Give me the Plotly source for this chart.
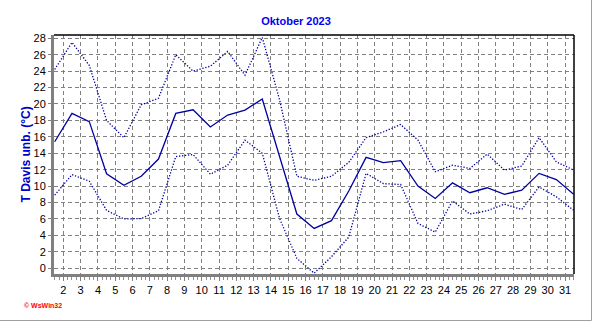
import plotly.graph_objects as go

days = list(range(1, 32))
x_pos = [d + 0.5 for d in days]

t_max = [24.2, 27.5, 24.7, 18.0, 15.9, 19.9, 20.7, 26.0, 24.0, 24.6, 26.4, 23.5, 28.1, 20.5, 11.2,
         10.7, 11.2, 12.9, 15.9, 16.6, 17.5, 15.6, 11.75, 12.55, 12.15, 13.9, 11.95, 12.45, 15.9, 12.95, 11.95]
t_mean = [15.4, 18.85, 17.85, 11.5, 10.1, 11.2, 13.3, 18.85, 19.3, 17.2, 18.65, 19.25, 20.6, 13.6, 6.6,
          4.85, 5.8, 9.4, 13.5, 12.85, 13.1, 10.0, 8.5, 10.4, 9.2, 9.8, 9.0, 9.5, 11.55, 10.8, 9.0]
t_min = [8.9, 11.4, 10.6, 7.05, 6.0, 6.05, 7.0, 13.6, 13.85, 11.45, 12.55, 15.6, 14.0, 6.05, 1.2,
         -0.6, 1.4, 3.8, 11.55, 10.3, 10.2, 5.45, 4.4, 8.2, 6.6, 7.0, 7.8, 7.15, 9.9, 8.7, 7.05]

x_ticks = list(range(2, 32))
y_ticks = list(range(0, 29, 2))

line_col = "#0000A0"
fig = go.Figure()
fig.add_trace(go.Scatter(x=x_pos, y=t_max, mode="lines",
                         line=dict(color=line_col, width=1.3, dash="1.3px,1.7px"), showlegend=False))
fig.add_trace(go.Scatter(x=x_pos, y=t_min, mode="lines",
                         line=dict(color=line_col, width=1.3, dash="1.3px,1.7px"), showlegend=False))
fig.add_trace(go.Scatter(x=x_pos, y=t_mean, mode="lines",
                         line=dict(color=line_col, width=1.3), showlegend=False))

fig.update_layout(
    width=592, height=321,
    margin=dict(l=54, r=18, t=35, b=47),
    paper_bgcolor="white", plot_bgcolor="white",
    font=dict(family="Liberation Sans, Arial", size=11, color="black"),
    title=dict(text="<b>Oktober 2023</b>", x=0.5, xanchor="center", y=1 - 21/321, yanchor="middle",
               font=dict(size=11, color="#0000EE")),
    xaxis=dict(range=[1.46, 31.52], tickmode="array", tickvals=x_ticks,
               ticktext=[str(v) for v in x_ticks],
               showgrid=True, gridcolor="#808080", griddash="4px,3px", gridwidth=1,
               showline=True, linecolor="#808080", linewidth=3,
               ticks="outside", ticklen=4, tickcolor="#808080", tickwidth=1,
               minor=dict(dtick=0.25, tick0=0, ticks="outside", ticklen=3, tickcolor="#909090", showgrid=False),
               zeroline=False, fixedrange=True),
    yaxis=dict(range=[-0.7, 28.4], tickmode="array", tickvals=y_ticks,
               ticktext=[str(v) for v in y_ticks],
               showgrid=True, gridcolor="#808080", griddash="4px,3px", gridwidth=1,
               showline=True, linecolor="#808080", linewidth=3,
               ticks="outside", ticklen=3, tickcolor="#808080",
               zeroline=False, fixedrange=True),
)

# y-axis title as annotation for precise placement
fig.add_annotation(text="<b>T Davis unb. (°C)</b>", xref="paper", yref="paper",
                   x=-29/520, y=0.5, xanchor="center", yanchor="middle", textangle=-90,
                   showarrow=False, font=dict(size=12, color="#0000CC"))

# top and right black border
fig.add_shape(type="line", xref="paper", yref="paper", x0=0, x1=1, y0=1, y1=1,
              line=dict(color="black", width=1.5))
fig.add_shape(type="line", xref="paper", yref="paper", x0=1, x1=1, y0=0, y1=1,
              line=dict(color="black", width=1.5))

# outer frame (right/bottom gray)
fig.add_shape(type="line", xref="paper", yref="paper", x0=-54/520, x1=(591.5-54)/520,
              y0=-(46.5)/239, y1=-(46.5)/239, line=dict(color="#A0A0A0", width=1))
fig.add_shape(type="line", xref="paper", yref="paper", x0=(591.5-54)/520, x1=(591.5-54)/520,
              y0=-(46.5)/239, y1=1 + 35/239, line=dict(color="#A0A0A0", width=1))

fig.add_annotation(text="<b>© WsWin32</b>", xref="paper", yref="paper",
                   x=-32/520, y=-(305 - 274)/239, xanchor="left", yanchor="middle",
                   showarrow=False, font=dict(size=7, color="red"))

fig.write_html("out.html")
